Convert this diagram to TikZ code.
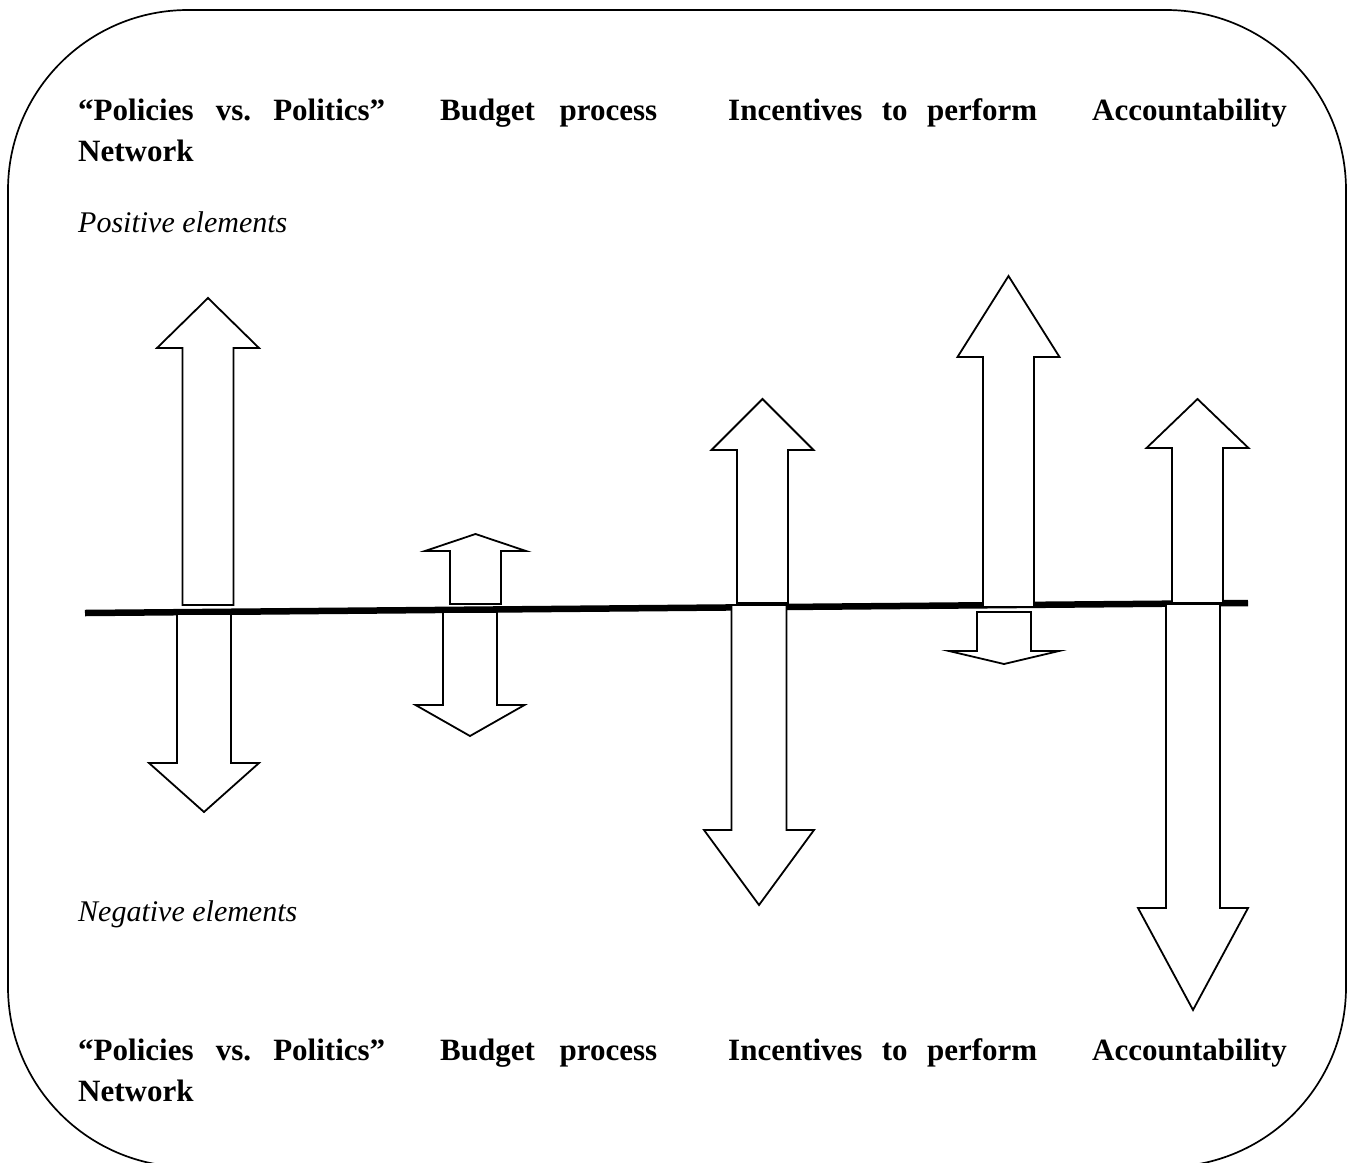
\documentclass[tikz,border=0pt]{standalone}
\usepackage{fontspec}
\setmainfont{Liberation Serif}
\frenchspacing
\begin{document}
\begin{tikzpicture}[x=1pt,y=-1pt,
  frame/.style={line width=1.7pt, rounded corners=180pt},
  axisline/.style={line width=6.5pt},
  arrowbox/.style={draw=black, fill=white, line width=1.8pt, line join=miter},
  headtext/.style={anchor=base west, inner sep=0pt, font=\fontsize{31}{40}\selectfont\bfseries},
  sidetext/.style={anchor=base west, inner sep=0pt, font=\fontsize{30}{38}\selectfont\itshape}]

% block arrow: centre x, foot y, head-base y, tip y, shaft half-width, head half-width
\newcommand{\vblock}[6]{%
  \draw[arrowbox] (#1-#5,#2) -- (#1-#5,#3) -- (#1-#6,#3) -- (#1,#4)
    -- (#1+#6,#3) -- (#1+#5,#3) -- (#1+#5,#2) -- cycle;}

\useasboundingbox (0,0) rectangle (1354,1162);
\fill[white] (0,0) rectangle (1354,1162);

% outer rounded frame (bottom edge lies just below the page)
\draw[frame] (8,10) rectangle (1346,1167);

% column headings, top
\node[headtext] (t1) at (78,120) {\makebox[307pt][s]{“Policies vs. Politics”}};
\node[headtext] (t2) at (440,120) {\makebox[217pt][s]{Budget process}};
\node[headtext] (t3) at (728,120) {\makebox[309pt][s]{Incentives to perform}};
\node[headtext, anchor=base east] (t4) at (1287,120) {Accountability};
\node[headtext] (t5) at (78,161) {Network};

\node[sidetext] (pos) at (78,232) {Positive elements};
\node[sidetext] (neg) at (78,921) {Negative elements};

% column headings, bottom
\node[headtext] (b1) at (78,1060) {\makebox[307pt][s]{“Policies vs. Politics”}};
\node[headtext] (b2) at (440,1060) {\makebox[217pt][s]{Budget process}};
\node[headtext] (b3) at (728,1060) {\makebox[309pt][s]{Incentives to perform}};
\node[headtext, anchor=base east] (b4) at (1287,1060) {Accountability};
\node[headtext] (b5) at (78,1101) {Network};

% balance line
\coordinate (axisL) at (85,613);
\coordinate (axisR) at (1248,603);
\draw[axisline] (axisL) -- (axisR);

% policies vs. politics network
\vblock{208}{605}{348}{298}{25.5}{51}
\vblock{204}{614}{763}{812}{27}{55}
% budget process
\vblock{475.5}{604}{551}{534}{25.5}{50.5}
\vblock{470}{612}{705}{736}{27}{54.5}
% incentives to perform
\vblock{762.5}{603}{450}{399}{25.5}{51}
\vblock{759}{605}{830}{905}{27.5}{55}
% accountability (4th column)
\vblock{1008.5}{607}{357}{276}{25.5}{51}
\vblock{1004}{612}{651}{664}{27}{55}
% accountability (5th column)
\vblock{1197.5}{603}{448}{399}{25.5}{51}
\vblock{1193}{604}{908}{1010}{27}{55}
\end{tikzpicture}
\end{document}
